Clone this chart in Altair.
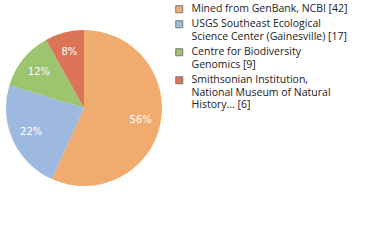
import altair as alt
import pandas as pd

labels = [
    "Mined from GenBank, NCBI [42]",
    "USGS Southeast Ecological|Science Center (Gainesville) [17]",
    "Centre for Biodiversity|Genomics [9]",
    "Smithsonian Institution,|National Museum of Natural|History... [6]",
]
counts = [42, 17, 9, 6]
colors = ["#EFAC6E", "#9DB9DF", "#9DC46E", "#DC7558"]

df = pd.DataFrame({"label": labels, "count": counts, "order": list(range(len(labels)))})

color = alt.Color(
    "label:N",
    scale=alt.Scale(domain=labels, range=colors),
    legend=alt.Legend(
        title=None,
        orient="none",
        legendX=174,
        legendY=4,
        symbolType="square",
        symbolSize=49,
        symbolStrokeColor="#777777",
        symbolStrokeWidth=1,
        labelExpr="split(datum.label, '|')",
        labelFont="Open Sans",
        labelFontSize=10.5,
        labelColor="#222222",
        labelLimit=300,
        labelOffset=7,
        rowPadding=3,
    ),
)

base = alt.Chart(df).encode(
    theta=alt.Theta("count:Q", stack=True),
    order=alt.Order("order:Q"),
)

pie = base.mark_arc(radius=78, stroke=None).encode(
    color=color,
    x=alt.value(84),
    y=alt.value(108),
)

text = base.transform_joinaggregate(total="sum(count)").transform_calculate(
    pct="floor(datum.count / datum.total * 100) + '%'"
).mark_text(
    radius=58, font="DejaVu Sans", fontSize=10, color="white"
).encode(
    text="pct:N",
    x=alt.value(84),
    y=alt.value(108),
)

chart = alt.layer(pie, text).properties(
    width=380, height=240, autosize=alt.AutoSizeParams(type="none"), padding=0
).configure_view(stroke=None)

chart.save("out.html", embed_options={"renderer": "svg", "actions": False})
